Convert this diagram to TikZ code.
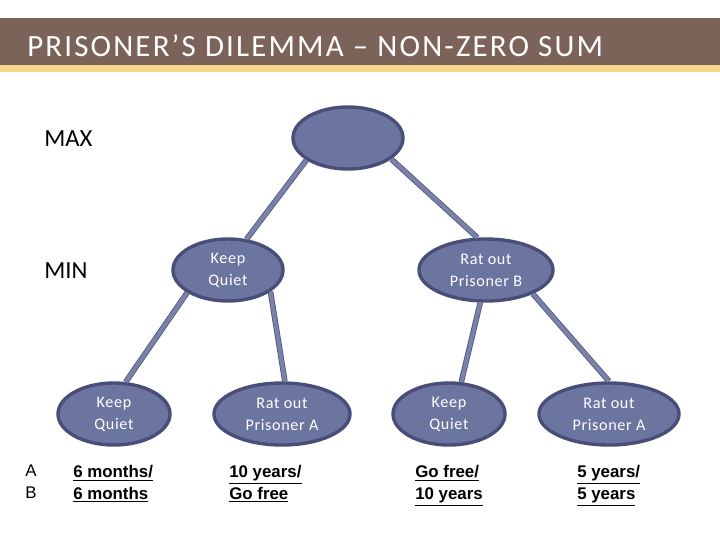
\documentclass[tikz,border=0pt]{standalone}
\usepackage{fontspec}
\setmainfont{Carlito}
\newfontfamily\arialfont{Liberation Sans}
\newfontfamily\titlefont[LetterSpace=7]{Carlito}
\newfontfamily\statefont[LetterSpace=4]{Carlito}
\usetikzlibrary{shapes.geometric}

\definecolor{barbrown}{RGB}{124,99,89}
\definecolor{baryellow}{RGB}{249,215,137}
\definecolor{nodefill}{RGB}{107,117,160}
\definecolor{nodeborder}{RGB}{72,78,120}
\definecolor{branchfill}{RGB}{122,130,170}
\definecolor{branchline}{RGB}{82,88,128}

\tikzset{
	state/.style={ellipse, draw=nodeborder, fill=nodefill, line width=2.4pt, text=white,
		align=center, inner sep=0pt, minimum height=1.55cm,
		font=\statefont\fontsize{11.5}{15.5}\selectfont},
	branch/.style={draw=branchline, line width=0.6pt, double=branchfill, double distance=2.8pt},
	level/.style={anchor=base west, inner sep=0pt, font=\fontsize{17.5}{18}\selectfont},
	payoff/.style={anchor=north west, align=left, inner sep=0pt,
		font=\arialfont\bfseries\fontsize{12}{15.6}\selectfont}
}

\begin{document}
\begin{tikzpicture}[x=0.025cm, y=-0.025cm]
		\useasboundingbox (0,0) rectangle (720,540);

		% title bar
		\fill [barbrown] (0,18) rectangle (720,65);
		\fill [baryellow] (0,65) rectangle (720,72);
		\node (title) at (27,56) [anchor=base west, white, inner sep=0pt,
		font=\titlefont\fontsize{22}{24}\selectfont] {PRISONER’S DILEMMA – NON-ZERO SUM};

		\node (max) at (44,146) [level] {MAX};
		\node (min) at (44,278) [level] {MIN};

		% tree
		\node (root) at (348,138) [state, minimum width=2.75cm] {};
		\node (kq) at (228,270) [state, minimum width=2.75cm] {Keep\\Quiet};
		\node (rat) at (486,270) [state, minimum width=3.35cm] {Rat out\\Prisoner B};

		\node (kqa) at (114,414) [state, minimum width=2.8cm] {Keep\\Quiet};
		\node (rata) at (282,414) [state, minimum width=3.4cm] {Rat out\\Prisoner A};
		\node (kqb) at (449,414) [state, minimum width=2.8cm] {Keep\\Quiet};
		\node (ratb) at (609,414) [state, minimum width=3.5cm] {Rat out\\Prisoner A};

		\draw [branch] (root.208) -- (kq.59);
		\draw [branch] (root.334) -- (rat.105);
		\draw [branch] (kq.209) -- (kqa.70);
		\draw [branch] (kq.333) -- (rata.85);
		\draw [branch] (rat.260) -- (kqb.69);
		\draw [branch] (rat.333) -- (ratb.90);

		% outcomes
		\node (who) at (25,465) [anchor=north west, align=left, inner sep=0pt,
		font=\arialfont\fontsize{12}{15.6}\selectfont] {A\\B};
		\node (pa) at (73,465) [payoff] {\underline{6 months/}\\\underline{6 months}};
		\node (pb) at (229,465) [payoff] {\underline{10 years/}\\\underline{Go free}};
		\node (pc) at (415,465) [payoff] {\underline{Go free/}\\\underline{10 years}};
		\node (pd) at (577,465) [payoff] {\underline{5 years/}\\\underline{5 years}};

\end{tikzpicture}
\end{document}
